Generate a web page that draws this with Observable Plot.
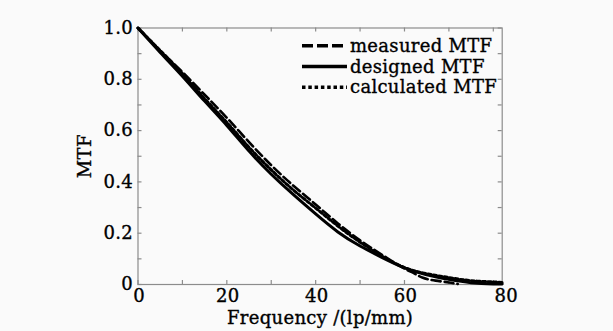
<!DOCTYPE html>
<html><head><meta charset="utf-8">
<script src="https://cdn.jsdelivr.net/npm/d3@7"></script>
<script src="https://cdn.jsdelivr.net/npm/@observablehq/plot@0.6"></script>
<style>
html,body{margin:0;padding:0;background:#fafafa;}
#wrap{position:relative;width:613px;height:331px;}
#wrap svg{display:block;}
#wrap svg text{stroke:#000;stroke-width:0.35px;}
#legend{position:absolute;left:0;top:0;pointer-events:none;}
</style></head><body><div id="wrap"></div>
<script>
// ---- data ----
const designedFreq = [0,5,10,15,20,25,30,35,40,45,50,55,60,65,70,75,80,82];
const designedMTF  = [1.0,0.905,0.812,0.715,0.620,0.520,0.430,0.350,0.275,0.205,0.150,0.105,0.065,0.038,0.020,0.007,0.002,0.002];

const measuredFreq = [0,5,10,15,20,25,30,35,40,45,50,55,60,62,64,67,70,72];
const measuredMTF  = [1.0,0.912,0.828,0.740,0.650,0.555,0.465,0.385,0.312,0.238,0.172,0.115,0.062,0.045,0.027,0.015,0.008,0.002];

const calculatedFreq = [0,5,10,15,20,25,30,35,40,45,50,55,60,65,70,75,80,82];
const calculatedMTF  = [1.0,0.912,0.822,0.725,0.632,0.535,0.447,0.368,0.298,0.228,0.165,0.11,0.066,0.042,0.027,0.015,0.01,0.008];

const xTicks = [0,20,40,60,80];
const xMinorTicks = [10,30,50,70];
const yTicks = [0,0.2,0.4,0.6,0.8,1.0];
const yMinorTicks = [0.1,0.3,0.5,0.7,0.9];
const seriesNames = ["measured MTF","designed MTF","calculated MTF"];
const xLabel = "Frequency /(lp/mm)";
const yLabel = "MTF";

// ---- build ----
const W = 613, H = 331;
const mL = 137.5, mR = 111.3, mT = 27.5, mB = 47;
const plotW = W - mL - mR, plotH = H - mT - mB;
const axisGray = "#8c8c8c";
const font = "DejaVu Serif";

const toRows = (fx, fy) => fx.map((f, i) => ({f, m: fy[i]}));
const designed = toRows(designedFreq, designedMTF);
const measured = toRows(measuredFreq, measuredMTF);
const calculated = toRows(calculatedFreq, calculatedMTF);
const xAll = xTicks.concat(xMinorTicks);
const yAll = yTicks.concat(yMinorTicks);

const dashMeasured = "9,4";
const dashCalculated = "3,2.5";
const lastX = xTicks[xTicks.length - 1];

const chart = Plot.plot({
  width: W, height: H,
  marginLeft: mL, marginRight: mR, marginTop: mT, marginBottom: mB,
  style: {background: "transparent", fontFamily: font, fontSize: "18px", color: "#000", letterSpacing: "0.3px"},
  x: {domain: [0, 82]},
  y: {domain: [0, 1]},
  marks: [
    Plot.frame({stroke: axisGray, strokeWidth: 1.2}),
    Plot.tickX(xAll, {x: d => d, stroke: axisGray, strokeWidth: 1.2, insetTop: plotH - 4}),
    Plot.tickX(xAll, {x: d => d, stroke: axisGray, strokeWidth: 1.2, insetBottom: plotH - 4}),
    Plot.tickY(yAll, {y: d => d, stroke: axisGray, strokeWidth: 1.2, insetRight: plotW - 4}),
    Plot.tickY(yAll, {y: d => d, stroke: axisGray, strokeWidth: 1.2, insetLeft: plotW - 4}),
    Plot.axisX(xTicks.filter(d => d !== lastX), {tickSize: 0, tickPadding: 5, fontSize: 18, label: xLabel, labelAnchor: "center", labelArrow: "none", labelOffset: 39, dx: 1}),
    Plot.axisX([lastX], {tickSize: 0, tickPadding: 5, fontSize: 18, label: null, dx: 13}),
    Plot.axisY(yTicks, {tickSize: 0, tickPadding: 5, fontSize: 18, tickFormat: d => d === 0 ? "0" : d.toFixed(1), label: yLabel, labelAnchor: "center", labelArrow: "none", labelOffset: 60}),
    Plot.line(designed, {x: "f", y: "m", stroke: "#000", strokeWidth: 3, curve: "natural"}),
    Plot.line(measured, {x: "f", y: "m", stroke: "#000", strokeWidth: 2.6, strokeDasharray: dashMeasured, curve: "natural"}),
    Plot.line(calculated, {x: "f", y: "m", stroke: "#000", strokeWidth: 3, strokeDasharray: dashCalculated, curve: "natural"})
  ]
});
const wrap = document.getElementById("wrap");
wrap.appendChild(chart);

// legend overlay (top right inside frame)
const styles = [
  {dash: "11,4", w: 3.4},
  {dash: null, w: 3.6},
  {dash: "3.5,2.8", w: 3.6}
];
const ns = "http://www.w3.org/2000/svg";
const leg = document.createElementNS(ns, "svg");
leg.setAttribute("id", "legend");
leg.setAttribute("width", W); leg.setAttribute("height", H);
seriesNames.forEach((name, i) => {
  const cy = 45.7 + i * 20.8;
  const ln = document.createElementNS(ns, "line");
  ln.setAttribute("x1", 302); ln.setAttribute("x2", 347);
  ln.setAttribute("y1", cy); ln.setAttribute("y2", cy);
  ln.setAttribute("stroke", "#000"); ln.setAttribute("stroke-width", styles[i].w);
  if (styles[i].dash) ln.setAttribute("stroke-dasharray", styles[i].dash);
  leg.appendChild(ln);
  const tx = document.createElementNS(ns, "text");
  tx.setAttribute("x", 350); tx.setAttribute("y", cy + 6);
  tx.setAttribute("font-family", font); tx.setAttribute("font-size", 18);
  tx.setAttribute("letter-spacing", "0.3px");
  tx.setAttribute("fill", "#000");
  tx.textContent = name;
  leg.appendChild(tx);
});
wrap.appendChild(leg);
</script></body></html>
